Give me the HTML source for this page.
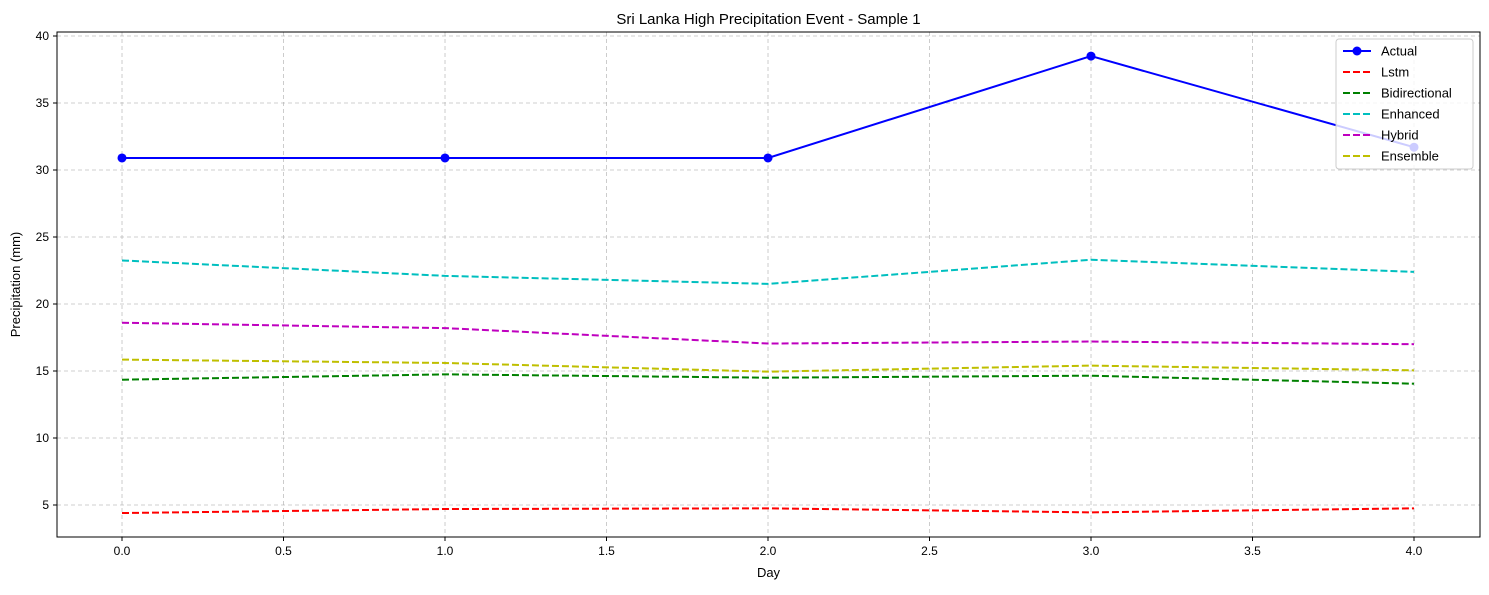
<!DOCTYPE html>
<html><head><meta charset="utf-8"><style>
body{margin:0;background:#fff;}
svg text{font-family:"Liberation Sans","DejaVu Sans",sans-serif;fill:#000;}
</style></head><body>
<svg id="chart" width="1489" height="590"></svg>
<script>
const days=[0,1,2,3,4];
const actual=[30.9,30.9,30.9,38.5,31.7];
const lstm=[4.4,4.7,4.75,4.45,4.75];
const bidirectional=[14.35,14.75,14.5,14.65,14.05];
const enhanced=[23.25,22.1,21.5,23.3,22.4];
const hybrid=[18.6,18.2,17.05,17.2,17.0];
const ensemble=[15.85,15.6,14.95,15.4,15.05];
const xTicks=[0,0.5,1,1.5,2,2.5,3,3.5,4];
const yTicks=[5,10,15,20,25,30,35,40];
const seriesNames=["Actual","Lstm","Bidirectional","Enhanced","Hybrid","Ensemble"];
const seriesColors=["#0000ff","#ff0000","#008000","#00bfbf","#bf00bf","#bfbf00"];
const seriesData=[actual,lstm,bidirectional,enhanced,hybrid,ensemble];

const L=57,R=1480,T=32,B=537;
const xS=v=>122+v*323;
const yS=v=>505-(v-5)*13.4;
const svg=document.getElementById('chart');
const NS='http://www.w3.org/2000/svg';
function mk(tag,attrs,parent){const e=document.createElementNS(NS,tag);for(const k in attrs)e.setAttribute(k,attrs[k]);(parent||svg).appendChild(e);return e;}

const grid=mk('g',{});


xTicks.forEach(t=>{
  mk('line',{x1:xS(t),x2:xS(t),y1:T,y2:B,stroke:'#b0b0b0','stroke-dasharray':'4,3','stroke-width':0.8,opacity:0.8},grid);
  mk('line',{x1:xS(t),x2:xS(t),y1:B,y2:B+4,stroke:'#000'},grid);
  const tx=mk('text',{x:xS(t),y:B+18,'text-anchor':'middle','font-size':12},grid);
  tx.textContent=t.toFixed(1);
  
  
});
yTicks.forEach(t=>{
  mk('line',{x1:L,x2:R,y1:yS(t),y2:yS(t),stroke:'#b0b0b0','stroke-dasharray':'4,3','stroke-width':0.8,opacity:0.8},grid);
  mk('line',{x1:L-4,x2:L,y1:yS(t),y2:yS(t),stroke:'#000'},grid);
  const tx=mk('text',{x:L-8,y:yS(t)+4,'text-anchor':'end','font-size':12},grid);
  tx.textContent=t;
  
  
});

seriesData.forEach((d,i)=>{
  const pts=d.map((v,j)=>xS(days[j])+','+yS(v)).join(' ');
  const pl=mk('polyline',{points:pts,fill:'none',stroke:seriesColors[i],'stroke-width':2,'stroke-dasharray':i===0?'none':'7,3'});
  
  
  if(i===0){d.forEach((v,j)=>{
    const c=mk('circle',{cx:xS(days[j]),cy:yS(v),r:4.5,fill:seriesColors[0]});
    
    
  });}
});

const frame=mk('rect',{x:L,y:T,width:R-L,height:B-T,fill:'none',stroke:'#000','stroke-width':1});



const title=mk('text',{x:(L+R)/2,y:24,'text-anchor':'middle','font-size':15});
title.textContent='Sri Lanka High Precipitation Event - Sample 1';


const xl=mk('text',{x:(L+R)/2,y:577,'text-anchor':'middle','font-size':13});
xl.textContent='Day';


const yl=mk('text',{x:20,y:(T+B)/2,'text-anchor':'middle','font-size':13,transform:'rotate(-90 20 '+((T+B)/2)+')'});
yl.textContent='Precipitation (mm)';



const lg=mk('g',{});


mk('rect',{x:1336,y:39,width:137,height:130,fill:'#fff','fill-opacity':0.8,stroke:'#ccc',rx:3},lg);
seriesNames.forEach((n,i)=>{
  const y=51+i*21;
  mk('line',{x1:1343,x2:1371,y1:y,y2:y,stroke:seriesColors[i],'stroke-width':2,'stroke-dasharray':i===0?'none':'7,3'},lg);
  if(i===0)mk('circle',{cx:1357,cy:y,r:4.5,fill:seriesColors[0]},lg);
  const t=mk('text',{x:1381,y:y+4.5,'font-size':13},lg);
  t.textContent=n;
  
  
});
</script>
</body></html>
